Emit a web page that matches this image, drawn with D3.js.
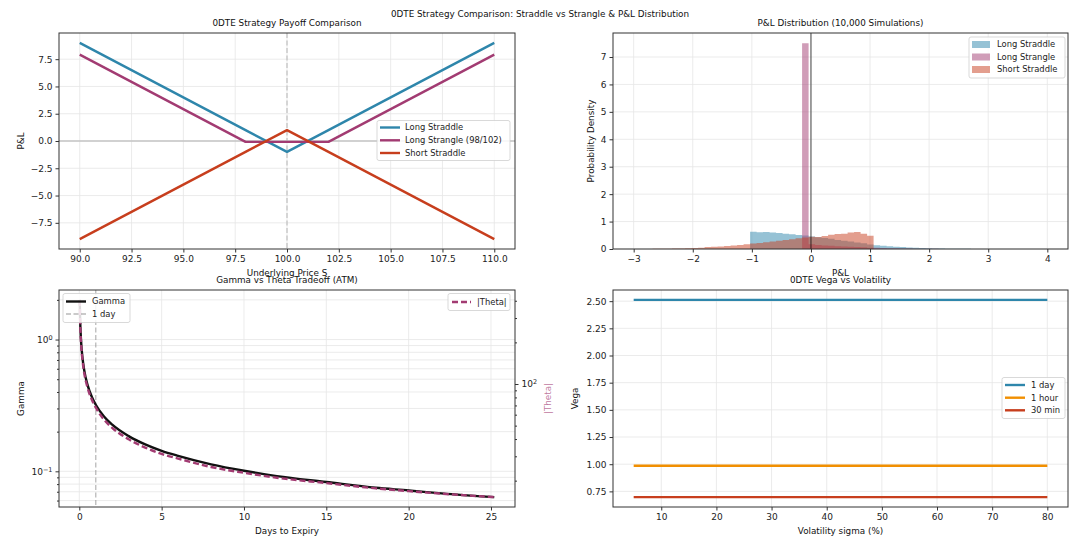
<!DOCTYPE html>
<html>
<head>
<meta charset="utf-8">
<script src="https://cdn.jsdelivr.net/npm/d3@7"></script>
<style>
  body { margin: 0; background: #fff; }
  svg { font-family: "DejaVu Sans", sans-serif; }
</style>
</head>
<body>
<svg id="fig" width="1080" height="537"></svg>
<script>
// ---- payoff panel ----
const priceS = [90, 98, 100, 102, 110];
const longStraddle = [9, 1, -1, 1, 9];
const longStrangle = [7.92, -0.08, -0.08, -0.08, 7.92];
const shortStraddle = [-9, -1, 1, -1, -9];
const payoffXTicks = [90, 92.5, 95, 97.5, 100, 102.5, 105, 107.5, 110];
const payoffYTicks = [-7.5, -5, -2.5, 0, 2.5, 5, 7.5];

// ---- P&L histogram (density per bin, bins 0.11 wide) ----
const binWidth = 0.11;
const straddleBinStart = -1.03;
const straddleDensity = [0.63, 0.61, 0.62, 0.60, 0.58, 0.56, 0.54, 0.51, 0.49, 0.46,
  0.43, 0.40, 0.37, 0.33, 0.30, 0.27, 0.24, 0.21, 0.16, 0.14, 0.12, 0.10, 0.085, 0.07,
  0.055, 0.045, 0.035, 0.03, 0.022, 0.017, 0.012, 0.009, 0.007, 0.005, 0.003, 0.002, 0.001];
const strangleBinStart = -0.15;
const strangleDensity = [7.5, 0.17, 0.15, 0.13, 0.12, 0.10, 0.09, 0.08, 0.07, 0.06, 0.05,
  0.045, 0.035, 0.03, 0.025, 0.02, 0.016, 0.012, 0.009, 0.007, 0.005, 0.004, 0.003, 0.002];
const shortBinStart = -3.01;
const shortDensity = [0.002, 0.003, 0.004, 0.006, 0.008, 0.012, 0.016, 0.02, 0.026, 0.035,
  0.045, 0.07, 0.08, 0.095, 0.11, 0.13, 0.15, 0.17, 0.2, 0.22, 0.25, 0.27, 0.30, 0.33,
  0.36, 0.39, 0.42, 0.45, 0.44, 0.47, 0.52, 0.55, 0.56, 0.60, 0.62, 0.56, 0.48];
const histXTicks = [-3, -2, -1, 0, 1, 2, 3, 4];
const histYTicks = [0, 1, 2, 3, 4, 5, 6, 7];

// ---- gamma vs theta ----
const days = [0.026, 0.05, 0.1, 0.2, 0.3, 0.5, 0.75, 1, 1.5, 2, 3, 4, 5, 6, 8, 10, 12, 15, 18, 20, 22, 25.2];
const gamma = [2.0, 1.43, 1.01, 0.716, 0.584, 0.453, 0.37, 0.32, 0.261, 0.226, 0.185, 0.16,
  0.143, 0.131, 0.113, 0.101, 0.092, 0.083, 0.075, 0.0716, 0.068, 0.0637];
const theta = [406, 290, 205, 147, 120, 94.2, 77.6, 67.6, 55.3, 48.2, 39.8, 34.7,
  31.2, 28.9, 25.1, 22.8, 21.0, 19.2, 17.6, 16.8, 16.1, 15.2];
const daysTicks = [0, 5, 10, 15, 20, 25];

// ---- vega vs vol ----
const sigmaPct = [5, 20, 35, 50, 65, 80];
const vega1Day = [2.512, 2.512, 2.512, 2.512, 2.512, 2.512];
const vega1Hour = [0.986, 0.986, 0.986, 0.986, 0.986, 0.986];
const vega30Min = [0.697, 0.697, 0.697, 0.697, 0.697, 0.697];
const sigmaTicks = [10, 20, 30, 40, 50, 60, 70, 80];
const vegaTicks = [0.75, 1.0, 1.25, 1.5, 1.75, 2.0, 2.25, 2.5];

const BLUE = "#2E86AB", MAGENTA = "#A23B72", RED = "#C73E1D", ORANGE = "#F18F01";
const GRID = "#e6e6e6", SPINE = "#333";

const svg = d3.select("#fig");
svg.append("rect").attr("width", 1080).attr("height", 537).attr("fill", "#fff");

svg.append("text").attr("x", 540).attr("y", 17).attr("text-anchor", "middle")
  .attr("font-size", 8.8).attr("fill", "#111")
  .text("0DTE Strategy Comparison: Straddle vs Strangle & P&L Distribution");

function panel(left, top, w, h) {
  const g = svg.append("g").attr("transform", `translate(${left},${top})`);
  return { g, w, h, left, top };
}

function styleAxis(ax) {
  ax.attr("font-size", 9).attr("font-family", null);
  ax.select(".domain").remove();
  ax.selectAll(".tick line").attr("stroke", SPINE);
  ax.selectAll(".tick text").attr("fill", "#222");
}

function xAxis(p, x, ticks, fmt) {
  const ax = p.g.append("g").attr("transform", `translate(0,${p.h})`)
    .call(d3.axisBottom(x).tickValues(ticks).tickFormat(fmt).tickSize(3.5).tickPadding(3));
  styleAxis(ax);
}

function yAxis(p, y, ticks, fmt) {
  const ax = p.g.append("g")
    .call(d3.axisLeft(y).tickValues(ticks).tickFormat(fmt).tickSize(3.5).tickPadding(3));
  styleAxis(ax);
  return ax;
}

function gridX(p, x, ticks) {
  p.g.append("g").selectAll("line").data(ticks).join("line")
    .attr("x1", d => x(d)).attr("x2", d => x(d)).attr("y1", 0).attr("y2", p.h)
    .attr("stroke", GRID).attr("stroke-width", 0.8);
}
function gridY(p, y, ticks) {
  p.g.append("g").selectAll("line").data(ticks).join("line")
    .attr("y1", d => y(d)).attr("y2", d => y(d)).attr("x1", 0).attr("x2", p.w)
    .attr("stroke", GRID).attr("stroke-width", 0.8);
}

function frame(p) {
  p.g.append("rect").attr("width", p.w).attr("height", p.h)
    .attr("fill", "none").attr("stroke", SPINE).attr("stroke-width", 1);
}

function labels(p, title, xl, yl, ylX) {
  p.g.append("text").attr("x", p.w / 2).attr("y", -7).attr("text-anchor", "middle")
    .attr("font-size", 8.8).attr("fill", "#111").text(title);
  p.g.append("text").attr("x", p.w / 2).attr("y", p.h + 27).attr("text-anchor", "middle")
    .attr("font-size", 8.8).attr("fill", "#111").text(xl);
  p.g.append("text").attr("transform", `translate(${ylX},${p.h / 2}) rotate(-90)`)
    .attr("text-anchor", "middle").attr("dy", "0.35em")
    .attr("font-size", 8.8).attr("fill", "#111").text(yl);
}

function legend(p, bx, by, bw, bh, items, rowY, sampleX, textX) {
  const lg = p.g.append("g");
  lg.append("rect").attr("x", bx).attr("y", by).attr("width", bw).attr("height", bh)
    .attr("rx", 2).attr("fill", "#fff").attr("fill-opacity", 0.85)
    .attr("stroke", "#cfcfcf").attr("stroke-width", 0.8);
  items.forEach((it, i) => {
    const yy = rowY[i];
    if (it.patch) {
      lg.append("rect").attr("x", sampleX).attr("y", yy - 3.5).attr("width", 18).attr("height", 7)
        .attr("fill", it.color).attr("fill-opacity", 0.5);
    } else {
      lg.append("line").attr("x1", sampleX).attr("x2", sampleX + (it.len || 20))
        .attr("y1", yy).attr("y2", yy).attr("stroke", it.color)
        .attr("stroke-width", it.width || 2.4).attr("stroke-dasharray", it.dash || null)
        .attr("stroke-opacity", it.opacity || 1);
    }
    lg.append("text").attr("x", textX).attr("y", yy).attr("dy", "0.35em")
      .attr("font-size", 8.4).attr("fill", "#222").text(it.label);
  });
}

const fmt1 = d3.format(".1f");
const fmt2 = d3.format(".2f");
const fmtInt = d3.format("d");

// ================= Panel 1: payoff =================
{
  const p = panel(59, 33, 456, 216);
  const x = d3.scaleLinear().domain([89, 111]).range([0, p.w]);
  const y = d3.scaleLinear().domain([-9.9, 9.9]).range([p.h, 0]);
  gridX(p, x, payoffXTicks);
  gridY(p, y, payoffYTicks);
  p.g.append("line").attr("x1", 0).attr("x2", p.w).attr("y1", y(0)).attr("y2", y(0))
    .attr("stroke", "#c4c4c4").attr("stroke-width", 1.3);
  p.g.append("line").attr("x1", x(100)).attr("x2", x(100)).attr("y1", 0).attr("y2", p.h)
    .attr("stroke", "#c4c4c4").attr("stroke-width", 1.3).attr("stroke-dasharray", "5,2.5");
  const line = d3.line().x((d, i) => x(priceS[i])).y(d => y(d));
  [[longStraddle, BLUE], [longStrangle, MAGENTA], [shortStraddle, RED]].forEach(([vals, c]) => {
    p.g.append("path").attr("d", line(vals)).attr("fill", "none").attr("stroke", c)
      .attr("stroke-width", 2.4).attr("stroke-linejoin", "round");
  });
  xAxis(p, x, payoffXTicks, fmt1);
  yAxis(p, y, payoffYTicks, fmt1);
  frame(p);
  labels(p, "0DTE Strategy Payoff Comparison", "Underlying Price S", "P&L", -38);
  legend(p, 318, 87.5, 133, 40,
    [{ label: "Long Straddle", color: BLUE }, { label: "Long Strangle (98/102)", color: MAGENTA },
     { label: "Short Straddle", color: RED }],
    [94.5, 107.3, 120], 321, 346);
}

// ================= Panel 2: histogram =================
{
  const p = panel(613, 33, 455, 216);
  const x = d3.scaleLinear().domain([-3.35, 4.35]).range([0, p.w]);
  const y = d3.scaleLinear().domain([0, 7.875]).range([p.h, 0]);
  gridX(p, x, histXTicks);
  gridY(p, y, histYTicks);
  const series = [
    [straddleBinStart, straddleDensity, BLUE],
    [strangleBinStart, strangleDensity, MAGENTA],
    [shortBinStart, shortDensity, RED]
  ];
  series.forEach(([start, dens, c]) => {
    // one path per series so neighbouring bins do not double up the alpha
    const pts = [[x(start), y(0)]];
    dens.forEach((d, i) => {
      pts.push([x(start + i * binWidth), y(d)]);
      pts.push([x(start + (i + 1) * binWidth), y(d)]);
    });
    pts.push([x(start + dens.length * binWidth), y(0)]);
    p.g.append("path").attr("d", d3.line()(pts) + "Z")
      .attr("fill", c).attr("fill-opacity", 0.5).attr("stroke", "none");
  });
  p.g.append("line").attr("x1", x(0)).attr("x2", x(0)).attr("y1", 0).attr("y2", p.h)
    .attr("stroke", "#000").attr("stroke-opacity", 0.55).attr("stroke-width", 1.3);
  xAxis(p, x, histXTicks, fmtInt);
  yAxis(p, y, histYTicks, fmtInt);
  frame(p);
  labels(p, "P&L Distribution (10,000 Simulations)", "P&L", "Probability Density", -22);
  legend(p, 356, 4, 96, 41,
    [{ label: "Long Straddle", color: BLUE, patch: true }, { label: "Long Strangle", color: MAGENTA, patch: true },
     { label: "Short Straddle", color: RED, patch: true }],
    [11.5, 24, 36.5], 359, 384);
}

// ================= Panel 3: gamma vs theta =================
function supLabel(ax, expOf) {
  ax.selectAll(".tick text").each(function (d) {
    const t = d3.select(this);
    if (t.text() === "") return;
    t.text("10");
    t.append("tspan").attr("dy", "-0.45em").attr("font-size", "0.72em").text(expOf(d));
  });
}

{
  const p = panel(59, 290, 456, 217);
  const dExt = d3.extent(days), dPad = (dExt[1] - dExt[0]) * 0.05;
  const x = d3.scaleLinear().domain([dExt[0] - dPad, dExt[1] + dPad]).range([0, p.w]);
  const gl = d3.extent(gamma).map(Math.log10), gPad = (gl[1] - gl[0]) * 0.05;
  const yG = d3.scaleLog().domain([10 ** (gl[0] - gPad), 10 ** (gl[1] + gPad)]).range([p.h, 0]);
  const tl = d3.extent(theta).map(Math.log10), tPad = (tl[1] - tl[0]) * 0.05;
  const yT = d3.scaleLog().domain([10 ** (tl[0] - tPad), 10 ** (tl[1] + tPad)]).range([p.h, 0]);

  const gMajor = [0.1, 1];
  const gMinor = [0.06, 0.07, 0.08, 0.09, 0.2, 0.3, 0.4, 0.5, 0.6, 0.7, 0.8, 0.9, 2];
  const tMajor = [100];
  const tMinor = [20, 30, 40, 50, 60, 70, 80, 90, 200, 300, 400];

  gridX(p, x, daysTicks);
  gridY(p, yG, gMajor.concat(gMinor));

  p.g.append("line").attr("x1", x(1)).attr("x2", x(1)).attr("y1", 0).attr("y2", p.h)
    .attr("stroke", "#808080").attr("stroke-opacity", 0.55).attr("stroke-width", 1.3)
    .attr("stroke-dasharray", "5,2.5");

  const lineG = d3.line().x((d, i) => x(days[i])).y(d => yG(d)).curve(d3.curveMonotoneX);
  const lineT = d3.line().x((d, i) => x(days[i])).y(d => yT(d)).curve(d3.curveMonotoneX);
  p.g.append("path").attr("d", lineG(gamma)).attr("fill", "none")
    .attr("stroke", "#111").attr("stroke-width", 2.4);
  p.g.append("path").attr("d", lineT(theta)).attr("fill", "none")
    .attr("stroke", MAGENTA).attr("stroke-width", 2.4).attr("stroke-dasharray", "6,3");

  xAxis(p, x, daysTicks, fmtInt);
  const axL = yAxis(p, yG, gMajor, d => d);
  supLabel(axL, d => d === 1 ? "0" : "\u22121");
  const axLm = p.g.append("g").call(d3.axisLeft(yG).tickValues(gMinor).tickFormat("").tickSize(2));
  styleAxis(axLm);

  const axR = p.g.append("g").attr("transform", `translate(${p.w},0)`)
    .call(d3.axisRight(yT).tickValues(tMajor).tickFormat(d => d).tickSize(3.5).tickPadding(3));
  styleAxis(axR);
  supLabel(axR, () => "2");
  const axRm = p.g.append("g").attr("transform", `translate(${p.w},0)`)
    .call(d3.axisRight(yT).tickValues(tMinor).tickFormat("").tickSize(2));
  styleAxis(axRm);

  frame(p);
  labels(p, "Gamma vs Theta Tradeoff (ATM)", "Days to Expiry", "Gamma", -38);
  p.g.append("text").attr("transform", `translate(${p.w + 33},${p.h / 2}) rotate(-90)`)
    .attr("text-anchor", "middle").attr("dy", "0.35em").attr("font-size", 8.8)
    .attr("fill", MAGENTA).attr("fill-opacity", 0.7).text("|Theta|");

  legend(p, 4, 3.5, 67, 29,
    [{ label: "Gamma", color: "#111", width: 2.4 },
     { label: "1 day", color: "#808080", width: 1.3, dash: "5,2.5", opacity: 0.55 }],
    [11.5, 24], 7, 33);
  legend(p, 389, 3.5, 62, 17,
    [{ label: "|Theta|", color: MAGENTA, width: 2.4, dash: "6,3", len: 19 }],
    [12], 393, 418);
}

// ================= Panel 4: vega vs vol =================
{
  const p = panel(613, 290, 455, 217);
  const sPad = (d3.max(sigmaPct) - d3.min(sigmaPct)) * 0.05;
  const x = d3.scaleLinear().domain([d3.min(sigmaPct) - sPad, d3.max(sigmaPct) + sPad]).range([0, p.w]);
  const vAll = vega1Day.concat(vega1Hour, vega30Min);
  const vPad = (d3.max(vAll) - d3.min(vAll)) * 0.05;
  const y = d3.scaleLinear().domain([d3.min(vAll) - vPad, d3.max(vAll) + vPad]).range([p.h, 0]);
  gridX(p, x, sigmaTicks);
  gridY(p, y, vegaTicks);
  const line = d3.line().x((d, i) => x(sigmaPct[i])).y(d => y(d));
  [[vega1Day, BLUE], [vega1Hour, ORANGE], [vega30Min, RED]].forEach(([vals, c]) => {
    p.g.append("path").attr("d", line(vals)).attr("fill", "none").attr("stroke", c)
      .attr("stroke-width", 2.4);
  });
  xAxis(p, x, sigmaTicks, fmtInt);
  yAxis(p, y, vegaTicks, fmt2);
  frame(p);
  labels(p, "0DTE Vega vs Volatility", "Volatility sigma (%)", "Vega", -38.5);
  legend(p, 389, 87.5, 63, 41,
    [{ label: "1 day", color: BLUE }, { label: "1 hour", color: ORANGE }, { label: "30 min", color: RED }],
    [95, 107.7, 120.3], 392, 418);
}
</script>
</body>
</html>
